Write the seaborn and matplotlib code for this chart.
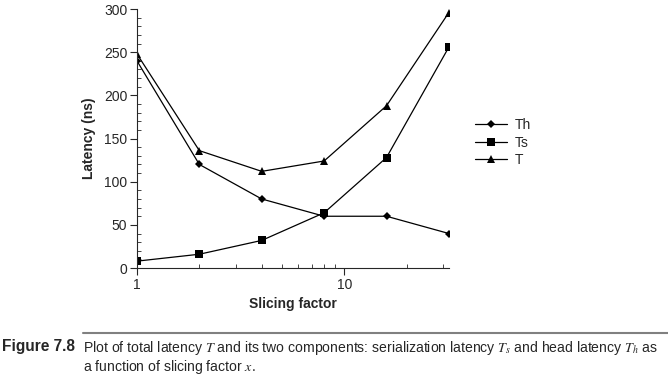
import pandas as pd
import seaborn as sns
import matplotlib.pyplot as plt
from matplotlib.ticker import MultipleLocator, LogLocator, NullFormatter, FixedLocator

slicing = [1, 2, 4, 8, 16, 32]
th = [240, 120, 80, 60, 60, 40]
ts = [8, 16, 32, 64, 128, 256]
t_total = [248, 136, 112, 124, 188, 296]
series_names = ["Th", "Ts", "T"]
markers = {"Th": "D", "Ts": "s", "T": "^"}
msizes = {"Th": 4.5, "Ts": 6.0, "T": 6.0}

df = pd.DataFrame({"x": slicing * 3,
                   "latency": th + ts + t_total,
                   "series": [n for n in series_names for _ in slicing]})

sns.set_style("ticks")
plt.rcParams['font.family'] = ['Liberation Sans', 'DejaVu Sans']
plt.rcParams['mathtext.fontset'] = 'stix'

fig = plt.figure(figsize=(6.68, 3.77), dpi=100)
ax = fig.add_axes([0.205, 0.289, 0.467, 0.687])

for name in series_names:
    sub = df[df.series == name]
    sns.lineplot(data=sub, x="x", y="latency", ax=ax, color="black", lw=0.9,
                 marker=markers[name], markersize=msizes[name], markeredgewidth=0,
                 label=name, legend=False)

ax.set_xscale("log")
ax.set_xlim(1, 32)
ax.set_ylim(0, 300)
ax.xaxis.set_major_locator(FixedLocator([1, 10]))
ax.xaxis.set_major_formatter(plt.FuncFormatter(lambda v, p: f"{int(v)}"))
ax.xaxis.set_minor_locator(LogLocator(base=10, subs=range(2, 10)))
ax.xaxis.set_minor_formatter(NullFormatter())
ax.yaxis.set_major_locator(MultipleLocator(50))
ax.yaxis.set_minor_locator(MultipleLocator(10))

ax.tick_params(axis="both", which="major", direction="out", length=5, width=0.8,
               labelsize=10, pad=2)
ax.tick_params(axis="both", which="minor", direction="in", length=3, width=0.6)
for s in ["top", "right"]:
    ax.spines[s].set_visible(False)
for s in ["left", "bottom"]:
    ax.spines[s].set_linewidth(0.8)

ax.set_xlabel("Slicing factor", fontsize=10, fontweight="bold", labelpad=4)
ax.set_ylabel("Latency (ns)", fontsize=10, fontweight="bold", labelpad=6)

leg = fig.legend(loc="upper left", bbox_to_anchor=(0.693, 0.72), frameon=False,
                 fontsize=10, handlelength=2.3, handletextpad=0.5, labelspacing=0.25,
                 markerscale=0.85)
for lh in leg.get_lines():
    lh.set_linewidth(0.9)

# caption
fig.add_artist(plt.Line2D([0.124, 1.0], [0.117, 0.117], color="#808080", lw=1.5,
                          transform=fig.transFigure))
fig.text(0.003, 0.1, "Figure 7.8", fontsize=11.2, fontweight="bold", va="top")
fig.text(0.124, 0.1,
         r"Plot of total latency $T$ and its two components: serialization latency $T_s$ and head latency $T_h$ as",
         fontsize=10.1, va="top")
fig.text(0.124, 0.05, r"a function of slicing factor $x$.",
         fontsize=10.1, va="top")

fig.savefig("out.png", dpi=100)
